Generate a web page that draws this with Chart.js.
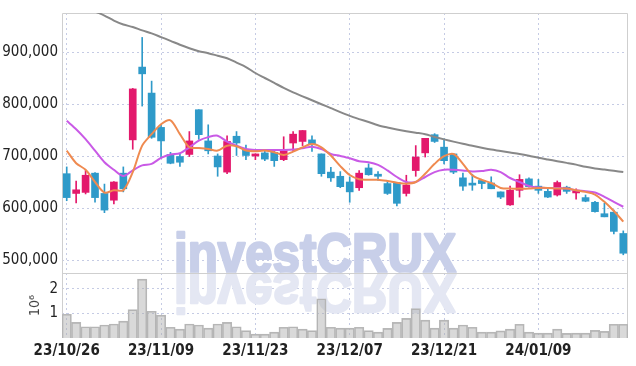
<!DOCTYPE html>
<html>
<head>
<meta charset="utf-8">
<script src="https://cdn.jsdelivr.net/npm/chart.js@4.4.1/dist/chart.umd.min.js"></script>
<style>
  html, body { margin: 0; padding: 0; background: #fff; }
</style>
</head>
<body>
<canvas id="myChart" width="636" height="366"></canvas>
<script>
'use strict';

//trading days
let dates = [
  '23/10/26', '23/10/27', '23/10/30', '23/10/31', '23/11/01', '23/11/02', '23/11/03', '23/11/06', '23/11/07', '23/11/08',
  '23/11/09', '23/11/10', '23/11/13', '23/11/14', '23/11/15', '23/11/16', '23/11/17', '23/11/20', '23/11/21', '23/11/22',
  '23/11/23', '23/11/24', '23/11/27', '23/11/28', '23/11/29', '23/11/30', '23/12/01', '23/12/04', '23/12/05', '23/12/06',
  '23/12/07', '23/12/08', '23/12/11', '23/12/12', '23/12/13', '23/12/14', '23/12/15', '23/12/18', '23/12/19', '23/12/20',
  '23/12/21', '23/12/22', '23/12/26', '23/12/27', '23/12/28', '24/01/02', '24/01/03', '24/01/04', '24/01/05', '24/01/08',
  '24/01/09', '24/01/10', '24/01/11', '24/01/12', '24/01/15', '24/01/16', '24/01/17', '24/01/18', '24/01/19', '24/01/22'
];

//prices
let opens = [
  667000, 629000, 631000, 668000, 629000, 616000, 668000, 732000, 872000, 822000,
  756000, 704000, 700000, 704000, 790000, 730000, 701000, 670000, 739000, 713000,
  701000, 707000, 708000, 694000, 726000, 729000, 732000, 705000, 670000, 662000,
  651000, 640000, 678000, 666000, 648000, 650000, 629000, 673000, 707000, 742000,
  718000, 705000, 659000, 647000, 654000, 649000, 632000, 607000, 635000, 657000,
  643000, 633000, 626000, 641000, 630000, 621000, 612000, 590000, 593000, 552000
];
let highs = [
  680000, 653000, 673000, 669000, 647000, 652000, 680000, 831000, 929000, 845000,
  762000, 708000, 706000, 748000, 790000, 761000, 705000, 740000, 748000, 722000,
  705000, 711000, 713000, 738000, 748000, 750000, 740000, 705000, 679000, 671000,
  661000, 673000, 686000, 671000, 653000, 650000, 664000, 721000, 735000, 744000,
  734000, 705000, 668000, 666000, 655000, 661000, 632000, 643000, 665000, 659000,
  656000, 640000, 653000, 643000, 638000, 626000, 614000, 610000, 597000, 557000
];
let lows = [
  615000, 611000, 628000, 612000, 592000, 609000, 632000, 714000, 797000, 735000,
  697000, 686000, 681000, 700000, 733000, 705000, 662000, 667000, 702000, 694000,
  694000, 692000, 681000, 692000, 711000, 721000, 710000, 662000, 652000, 640000,
  612000, 635000, 664000, 654000, 627000, 605000, 624000, 662000, 699000, 727000,
  686000, 667000, 635000, 635000, 638000, 638000, 619000, 606000, 622000, 641000,
  629000, 621000, 624000, 629000, 618000, 613000, 593000, 584000, 551000, 511000
];
let closes = [
  621000, 636000, 664000, 621000, 597000, 651000, 638000, 830000, 859000, 737000,
  730000, 687000, 689000, 730000, 742000, 711000, 680000, 729000, 726000, 702000,
  705000, 695000, 692000, 711000, 743000, 750000, 724000, 667000, 659000, 642000,
  632000, 668000, 665000, 662000, 629000, 610000, 645000, 699000, 735000, 729000,
  692000, 670000, 643000, 645000, 648000, 638000, 622000, 635000, 656000, 642000,
  635000, 622000, 650000, 633000, 632000, 614000, 594000, 584000, 556000, 514000
];

//moving averages
let maShort = [
  711400, 687200, 674500, 651000, 630700, 635200, 635200, 670100, 720900, 743000,
  762100, 769700, 743000, 717700, 716400, 714500, 711400, 720900, 719600, 711400,
  710100, 711400, 708200, 703000, 709500, 717700, 724000, 717700, 701900, 681500,
  664400, 656200, 655400, 655400, 653000, 649700, 647800, 651000, 666900, 685900,
  700600, 704900, 685900, 663800, 655000, 649100, 639600, 638300, 638300, 638300,
  639600, 639600, 638300, 638300, 635200, 632000, 626900, 612900, 595200, 574900
];
let maMid = [
  768600, 752600, 733500, 711400, 689100, 674500, 662500, 673300, 682900, 685900,
  697300, 703800, 706300, 717700, 730500, 737300, 740000, 728600, 720900, 714500,
  712600, 712600, 712600, 712600, 713300, 715800, 719000, 714500, 704900, 701100,
  696800, 691000, 689100, 684000, 673300, 660600, 651000, 651000, 660600, 670100,
  674500, 674500, 673300, 671400, 672000, 674500, 670100, 658700, 651000, 643400,
  640200, 639600, 639600, 638300, 635200, 633300, 630700, 622500, 612900, 603400
];
let maLong = [
  1003400, 995800, 987200, 979000, 971000, 961500, 953900, 949100, 942500, 936800,
  929700, 922500, 914900, 908200, 902500, 898700, 893900, 889100, 880600, 872000,
  860600, 851000, 841500, 832000, 823400, 815800, 808200, 800600, 793000, 785300,
  778100, 772000, 766300, 760200, 755800, 752000, 748800, 745900, 742900, 737700,
  733000, 728600, 724400, 720600, 716800, 713300, 710700, 707800, 704900, 701500,
  697700, 694300, 691000, 687800, 684400, 680200, 677100, 674900, 672600, 670100
];

//volume (shares)
let volumes = [
  970000, 640000, 460000, 460000, 530000, 570000, 690000, 1160000, 2400000, 1090000,
  930000, 440000, 360000, 570000, 530000, 400000, 570000, 640000, 460000, 300000,
  160000, 160000, 240000, 440000, 460000, 360000, 300000, 1600000, 440000, 400000,
  400000, 440000, 300000, 240000, 390000, 640000, 800000, 1200000, 730000, 400000,
  730000, 400000, 530000, 440000, 240000, 240000, 290000, 360000, 560000, 240000,
  200000, 200000, 360000, 190000, 200000, 200000, 310000, 270000, 560000, 560000
];

let priceTicks = [500000, 600000, 700000, 800000, 900000];
let volumeTicks = [1000000, 2000000];

//colours
let upColor = '#e3196c';
let downColor = '#2f9ac9';
let gridColor = 'rgba(150,160,205,0.55)';
let frameColor = '#cfcfcf';
let fontFamily = '"Liberation Sans Narrow", "DejaVu Sans Condensed", "Roboto", sans-serif';

let candleColors = [];
for(let i = 0; i < opens.length; i++){
  candleColors.push(closes[i] >= opens[i] ? upColor : downColor);
}

let wickData = [];
let bodyData = [];
for(let i = 0; i < opens.length; i++){
  wickData.push([lows[i], highs[i]]);
  bodyData.push([opens[i], closes[i]]);
}

//watermark and frame
let backdropPlugin = {
  id: 'backdrop',
  beforeDatasetsDraw(chart){
    let ctx = chart.ctx;
    let area = chart.chartArea;
    let yPrice = chart.scales.y;
    let base = yPrice.bottom;

    ctx.save();
    ctx.font = 'bold 56px "Liberation Sans", Arial, sans-serif';
    ctx.textBaseline = 'alphabetic';
    ctx.lineJoin = 'round';
    ctx.lineWidth = 2.5;
    ctx.translate(174, base - 1);
    ctx.scale(0.88, 1);
    ctx.fillStyle = 'rgba(200,207,233,1)';
    ctx.strokeStyle = 'rgba(200,207,233,1)';
    ctx.strokeText('investCRUX', 0, 0);
    ctx.fillText('investCRUX', 0, 0);
    ctx.translate(0, 2);
    ctx.scale(1, -1);
    ctx.fillStyle = 'rgba(228,231,243,1)';
    ctx.strokeStyle = 'rgba(228,231,243,1)';
    ctx.strokeText('investCRUX', 0, 0);
    ctx.fillText('investCRUX', 0, 0);
    ctx.restore();

    ctx.save();
    ctx.strokeStyle = frameColor;
    ctx.lineWidth = 1;
    ctx.beginPath();
    ctx.moveTo(area.left + 0.5, area.bottom);
    ctx.lineTo(area.left + 0.5, area.top + 0.5);
    ctx.lineTo(area.right - 0.5, area.top + 0.5);
    ctx.lineTo(area.right - 0.5, area.bottom);
    ctx.moveTo(area.left, Math.round(base) + 0.5);
    ctx.lineTo(area.right, Math.round(base) + 0.5);
    ctx.stroke();
    ctx.restore();
  }
};

const ctx = document.getElementById('myChart');
Chart.defaults.font.family = fontFamily;
Chart.defaults.color = '#333';

new Chart(ctx, {
  type: 'bar',
  data: {
    labels: dates,
    datasets: [
      {
        type: 'line',
        label: 'MA short',
        data: maShort,
        yAxisID: 'y',
        borderColor: '#ef8a50',
        borderWidth: 2,
        pointRadius: 0,
        tension: 0.3,
        order: 0
      },
      {
        type: 'line',
        label: 'MA mid',
        data: maMid,
        yAxisID: 'y',
        borderColor: '#c95ae6',
        borderWidth: 2,
        pointRadius: 0,
        tension: 0.3,
        order: 0
      },
      {
        type: 'line',
        label: 'MA long',
        data: maLong,
        yAxisID: 'y',
        borderColor: '#888888',
        borderWidth: 2,
        pointRadius: 0,
        tension: 0.3,
        order: 0
      },
      {
        label: 'wick',
        data: wickData,
        yAxisID: 'y',
        backgroundColor: candleColors,
        barThickness: 1,
        grouped: false,
        order: 1
      },
      {
        label: 'body',
        data: bodyData,
        yAxisID: 'y',
        backgroundColor: candleColors,
        barThickness: 7,
        minBarLength: 2,
        grouped: false,
        order: 1
      },
      {
        label: 'volume',
        data: volumes,
        yAxisID: 'yv',
        backgroundColor: 'rgba(170,170,170,0.45)',
        borderColor: '#b8b8b8',
        borderWidth: 1,
        barPercentage: 1,
        categoryPercentage: 1,
        grouped: false,
        order: 2
      }
    ]
  },
  options: {
    responsive: false,
    animation: false,
    devicePixelRatio: 1,
    layout: { padding: { top: 9, right: 8, bottom: 0, left: 0 } },
    plugins: {
      legend: { display: false },
      tooltip: { enabled: false }
    },
    scales: {
      x: {
        type: 'category',
        offset: true,
        grid: {
          offset: false,
          color: gridColor,
          tickLength: 0,
          drawTicks: false
        },
        border: { display: false, dash: [2, 3] },
        ticks: {
          autoSkip: false,
          maxRotation: 0,
          padding: 4,
          color: '#222',
          font: { size: 15, weight: 'bold' }
        },
        afterBuildTicks(scale){
          scale.ticks = scale.ticks.filter(t => t.value % 10 === 0);
        },
        afterFit(scale){
          scale.height = 28;
        }
      },
      yv: {
        stack: 'panes',
        stackWeight: 1,
        position: 'left',
        min: 0,
        max: 2650000,
        grid: { color: gridColor, drawTicks: false },
        border: { display: false, dash: [2, 3] },
        title: {
          display: true,
          text: '10⁶',
          color: '#444',
          font: { size: 14 },
          padding: { top: 27, bottom: 0 }
        },
        ticks: {
          padding: 4,
          includeBounds: false,
          color: '#222',
          font: { size: 15 },
          callback: (v) => String(v / 1000000)
        },
        afterBuildTicks(scale){
          scale.ticks = volumeTicks.map(v => ({ value: v }));
        },
        afterFit(scale){
          scale.width = 62;
        }
      },
      y: {
        stack: 'panes',
        stackWeight: 4,
        position: 'left',
        min: 476000,
        max: 976000,
        grid: { color: gridColor, drawTicks: false },
        border: { display: false, dash: [2, 3] },
        ticks: {
          padding: 4,
          includeBounds: false,
          color: '#222',
          font: { size: 15 },
          callback: (v) => v.toLocaleString('en-US')
        },
        afterBuildTicks(scale){
          scale.ticks = priceTicks.map(v => ({ value: v }));
        },
        afterFit(scale){
          scale.width = 62;
        }
      }
    }
  },
  plugins: [backdropPlugin]
});
</script>
</body>
</html>
